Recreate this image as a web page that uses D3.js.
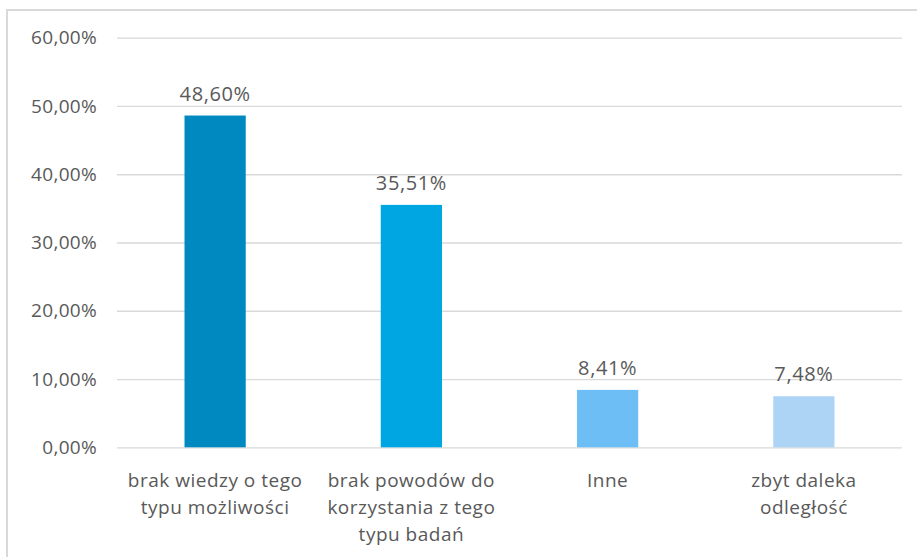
<!DOCTYPE html>
<html>
<head>
<meta charset="utf-8">
<script src="https://cdn.jsdelivr.net/npm/d3@7"></script>
<style>
  html, body { margin: 0; padding: 0; background: #fff; }
  svg { display: block; }
  text { font-family: "Open Sans", Lato, sans-serif; fill: #595959; }
</style>
</head>
<body>
<svg id="chart" width="917" height="557"></svg>
<script>
// Reasons for not using this type of examination
const categories = [
  ["brak wiedzy o tego", "typu możliwości"],
  ["brak powodów do", "korzystania z tego", "typu badań"],
  ["Inne"],
  ["zbyt daleka", "odległość"]
];
const values = [48.60, 35.51, 8.41, 7.48];
const barColors = ["#0089c0", "#00a6e2", "#6cbef4", "#add4f5"];
const yTicks = [0, 10, 20, 30, 40, 50, 60];

const svg = d3.select("#chart");
const W = 917, H = 557;
const plot = { left: 117, right: 902, top: 37.7, bottom: 447.3 };

// chart frame
svg.append("rect")
  .attr("x", 7).attr("y", 10)
  .attr("width", W + 20).attr("height", H + 20)
  .attr("fill", "#fff")
  .attr("stroke", "#d9d9d9").attr("stroke-width", 2);

const x = d3.scaleBand()
  .domain(d3.range(categories.length))
  .range([plot.left, plot.right])
  .paddingInner(0.688).paddingOuter(0.344);

const y = d3.scaleLinear().domain([0, 60]).range([plot.bottom, plot.top]);

const fmt = v => d3.format(".2f")(v).replace(".", ",") + "%";

// gridlines and y labels
const yAxis = d3.axisLeft(y).tickValues(yTicks)
  .tickSize(-(plot.right - plot.left)).tickPadding(20).tickFormat(fmt);
const gy = svg.append("g").attr("transform", `translate(${plot.left},0)`).call(yAxis);
gy.select(".domain").remove();
gy.selectAll(".tick line").attr("stroke", "#d9d9d9").attr("stroke-width", 1.3);
gy.selectAll(".tick text")
  .attr("fill", "#595959").style("font-size", "19px")
  .style("letter-spacing", "0.3px")
  .attr("font-family", "'Open Sans', Lato, sans-serif");

// bars
svg.append("g").selectAll("rect")
  .data(values)
  .join("rect")
  .attr("x", (d, i) => x(i))
  .attr("width", x.bandwidth())
  .attr("y", d => y(d))
  .attr("height", d => y(0) - y(d))
  .attr("fill", (d, i) => barColors[i]);

// value labels
svg.append("g").selectAll("text")
  .data(values)
  .join("text")
  .attr("x", (d, i) => x(i) + x.bandwidth() / 2)
  .attr("y", d => y(d) - 15)
  .attr("text-anchor", "middle")
  .style("font-size", "20px")
  .style("letter-spacing", "0.6px")
  .text(d => fmt(d));

// category labels
const cat = svg.append("g").selectAll("text")
  .data(categories)
  .join("text")
  .attr("x", (d, i) => x(i) + x.bandwidth() / 2)
  .attr("y", 487)
  .attr("text-anchor", "middle")
  .style("font-size", "19px")
  .style("letter-spacing", "0.5px");
cat.selectAll("tspan")
  .data(d => d)
  .join("tspan")
  .attr("x", function () { return this.parentNode.getAttribute("x"); })
  .attr("dy", (d, i) => i === 0 ? 0 : 27)
  .text(d => d);
</script>
</body>
</html>
